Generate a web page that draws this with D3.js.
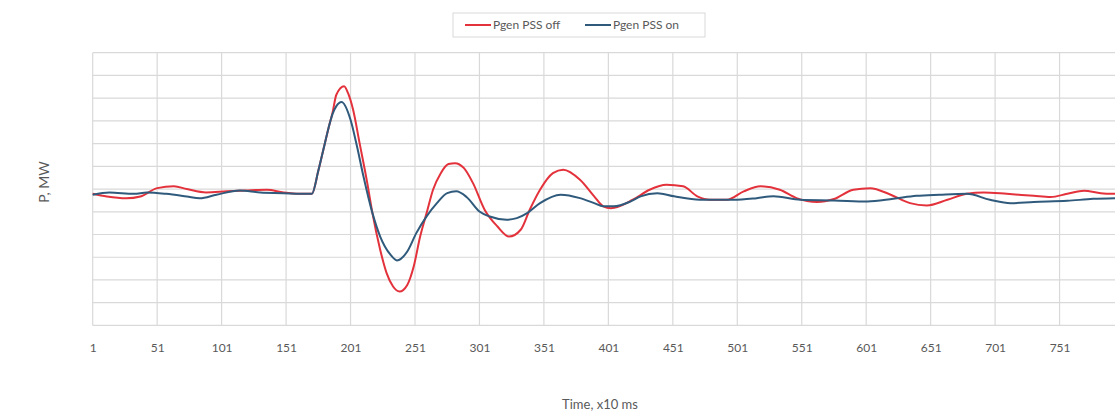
<!DOCTYPE html>
<html>
<head>
<meta charset="utf-8">
<script src="https://cdn.jsdelivr.net/npm/d3@7.9.0/dist/d3.min.js"></script>
<style>
  body { margin: 0; background: #fff; }
  text { font-family: Lato, "Open Sans", sans-serif; fill: #595959; }
</style>
</head>
<body>
<svg width="1115" height="416"></svg>
<script>
// series (sample index, power)
const seriesNames = ['Pgen PSS off', 'Pgen PSS on'];
const seriesColors = ['#e3323b', '#2f5a7c'];

const offT = [1, 12, 27, 38, 51, 64, 74, 89, 105, 120, 136, 149, 162, 171, 176, 180, 184, 187, 190, 196, 199, 203, 208, 214, 218, 224, 229, 234, 239, 245, 250, 255, 260, 265, 271, 277, 282, 289, 296, 305, 315, 324, 333, 340, 348, 358, 366, 379, 390, 397, 403, 420, 433, 446, 459, 470, 480, 493, 506, 519, 534, 547, 563, 576, 591, 604, 620, 635, 648, 664, 679, 692, 710, 731, 744, 757, 770, 783, 794];
const offP = [-0.21, -0.33, -0.41, -0.33, 0.04, 0.12, 0.0, -0.15, -0.1, -0.06, -0.03, -0.15, -0.21, -0.21, 0.8, 1.75, 2.7, 3.35, 4.15, 4.52, 4.23, 3.49, 2.03, 0.26, -1.06, -2.67, -3.7, -4.29, -4.51, -4.22, -3.41, -2.09, -1.06, -0.03, 0.7, 1.1, 1.14, 0.92, 0.26, -0.91, -1.65, -2.09, -1.79, -0.91, -0.03, 0.7, 0.85, 0.41, -0.32, -0.76, -0.84, -0.47, -0.03, 0.19, 0.12, -0.32, -0.47, -0.47, -0.1, 0.12, -0.03, -0.4, -0.57, -0.44, -0.03, 0.04, -0.25, -0.62, -0.72, -0.47, -0.21, -0.15, -0.21, -0.3, -0.35, -0.21, -0.07, -0.18, -0.21];

const onT = [1, 14, 33, 43, 58, 74, 84, 97, 115, 131, 149, 162, 171, 176, 180, 184, 187, 190, 194, 201, 206, 211, 218, 224, 232, 237, 245, 252, 260, 268, 276, 283, 291, 301, 309, 322, 330, 338, 348, 364, 379, 390, 397, 405, 418, 426, 439, 452, 472, 498, 516, 529, 550, 576, 602, 622, 640, 658, 679, 697, 713, 731, 757, 777, 794];
const onP = [-0.25, -0.15, -0.21, -0.15, -0.21, -0.33, -0.41, -0.25, -0.06, -0.15, -0.18, -0.21, -0.21, 0.8, 1.75, 2.7, 3.3, 3.65, 3.83, 3.05, 1.88, 0.56, -1.06, -2.09, -2.89, -3.14, -2.75, -1.94, -1.2, -0.62, -0.18, -0.1, -0.35, -0.99, -1.21, -1.35, -1.28, -1.06, -0.62, -0.25, -0.4, -0.62, -0.76, -0.76, -0.55, -0.32, -0.18, -0.32, -0.47, -0.47, -0.4, -0.32, -0.47, -0.5, -0.55, -0.43, -0.3, -0.25, -0.21, -0.47, -0.62, -0.57, -0.52, -0.43, -0.4];

const xTicks = d3.range(1, 752, 50);   // 1, 51, ..., 751
const yGrid = d3.range(-6, 7, 1);

const svg = d3.select('svg');
const plotL = 92.7, plotR = 1115, plotT = 52.7, plotB = 325.4;

const x = d3.scaleLinear().domain([1, 794]).range([plotL, plotR]);
const y = d3.scaleLinear().domain([-6, 6]).range([plotB, plotT]);

// grid
svg.append('g')
  .selectAll('line')
  .data(yGrid)
  .join('line')
  .attr('x1', plotL).attr('x2', plotR)
  .attr('y1', d => y(d)).attr('y2', d => y(d))
  .attr('stroke', '#d9d9d9').attr('stroke-width', 1.2);

svg.append('g')
  .selectAll('line')
  .data(xTicks)
  .join('line')
  .attr('x1', d => x(d)).attr('x2', d => x(d))
  .attr('y1', plotT).attr('y2', plotB)
  .attr('stroke', '#d9d9d9').attr('stroke-width', 1.2);

// x axis labels
const xAxis = d3.axisBottom(x).tickValues(xTicks).tickSize(0).tickPadding(18).tickFormat(d3.format('d'));
svg.append('g')
  .attr('transform', `translate(0,${plotB})`)
  .call(xAxis)
  .call(g => g.select('.domain').remove())
  .call(g => g.selectAll('text')
    .style('font-family', 'Lato, "Open Sans", sans-serif')
    .style('font-size', '12px')
    .attr('fill', '#595959'));

// lines
const line = d3.line()
  .x(d => x(d[0]))
  .y(d => y(d[1]))
  .curve(d3.curveMonotoneX);

const series = [d3.zip(offT, offP), d3.zip(onT, onP)];
series.forEach((s, i) => {
  svg.append('path')
    .datum(s)
    .attr('d', line)
    .attr('fill', 'none')
    .attr('stroke', seriesColors[i])
    .attr('stroke-width', 2)
    .attr('stroke-linejoin', 'round');
});

// axis titles
svg.append('text')
  .attr('x', 600).attr('y', 409)
  .attr('text-anchor', 'middle')
  .style('font-size', '13px')
  .text('Time, x10 ms');

svg.append('text')
  .attr('transform', 'translate(49,182) rotate(-90)')
  .attr('text-anchor', 'middle')
  .style('font-size', '14px')
  .text('P, MW');

// legend
const legend = svg.append('g').attr('transform', 'translate(453,13)');
legend.append('rect')
  .attr('width', 252).attr('height', 24)
  .attr('fill', '#fff').attr('stroke', '#d9d9d9');

const items = legend.selectAll('g.item')
  .data(seriesNames)
  .join('g')
  .attr('class', 'item')
  .attr('transform', (d, i) => `translate(${12 + i * 120},12)`);

items.append('line')
  .attr('x1', 0).attr('x2', 26)
  .attr('stroke', (d, i) => seriesColors[i])
  .attr('stroke-width', 2);

items.append('text')
  .attr('x', 28).attr('dy', '0.35em')
  .style('font-size', '12px')
  .text(d => d);
</script>
</body>
</html>
